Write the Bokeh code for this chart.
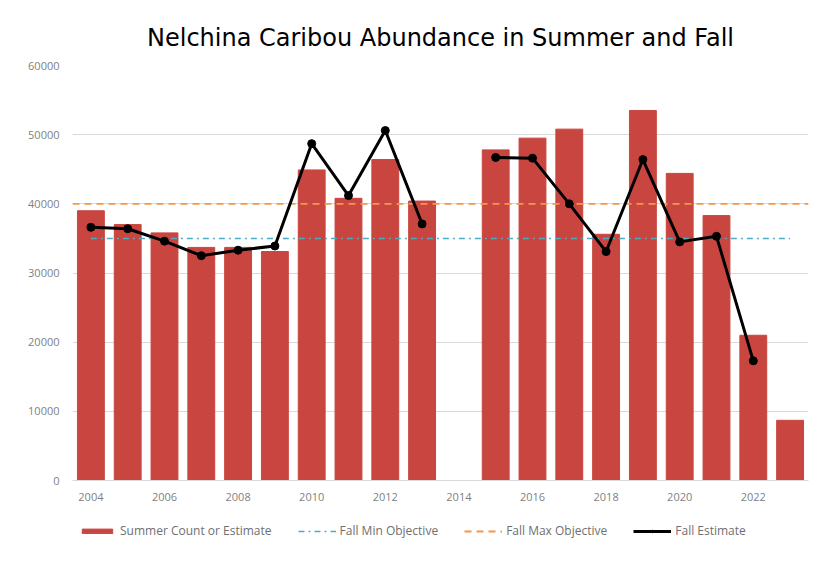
import numpy as np
from bokeh.plotting import figure
from bokeh.layouts import column
from bokeh.models import ColumnDataSource, FixedTicker, Legend, LegendItem, Range1d, NumeralTickFormatter
from bokeh.embed import file_html
from bokeh.resources import INLINE

# ---- data ----
years = list(range(2004, 2024))
summer_count = [39000, 37000, 35800, 33700, 33700, 33100, 44900, 40800, 46400, 40400,
                None, 47800, 49500, 50800, 35600, 53500, 44400, 38300, 21000, 8700]
fall_estimate = [36600, 36400, 34600, 32500, 33300, 33900, 48700, 41200, 50600, 37100,
                 None, 46700, 46600, 40000, 33100, 46400, 34500, 35300, 17300, None]
fall_min_objective = 35000
fall_max_objective = 40000
x_tick_years = list(range(2004, 2023, 2))
y_ticks = [0, 10000, 20000, 30000, 40000, 50000, 60000]

title_text = "Nelchina Caribou Abundance in Summer and Fall"
legend_labels = ["Summer Count or Estimate", "Fall Min Objective",
                 "Fall Max Objective", "Fall Estimate"]

bar_color = "#c8463f"
teal = "#4bacc6"
orange = "#f79646"
tick_font = "Open Sans"
label_color = "#7f7f7f"

# ---- sources ----
bar_years = [y for y, v in zip(years, summer_count) if v is not None]
bar_vals = [v for v in summer_count if v is not None]
bar_src = ColumnDataSource(dict(x=bar_years, top=bar_vals))

fall_vals = [np.nan if v is None else v for v in fall_estimate]
fall_src = ColumnDataSource(dict(x=years, y=fall_vals))
pt_years = [y for y, v in zip(years, fall_estimate) if v is not None]
pt_vals = [v for v in fall_estimate if v is not None]
pt_src = ColumnDataSource(dict(x=pt_years, y=pt_vals))

min_src = ColumnDataSource(dict(x=years, y=[fall_min_objective] * len(years)))
max_src = ColumnDataSource(dict(x=[years[0] - 0.5, years[-1] + 0.5],
                                y=[fall_max_objective] * 2))

p = figure(width=817, height=510, output_backend="svg", toolbar_location=None,
           x_range=Range1d(years[0] - 0.5, years[-1] + 0.5),
           y_range=Range1d(0, 60000),
           min_border_left=72, min_border_right=9, min_border_top=65, min_border_bottom=30)

p.title.text = title_text
p.title.align = "center"
p.title.text_font = "DejaVu Sans"
p.title.text_font_style = "normal"
p.title.text_font_size = "24px"
p.title.text_color = "#000000"
p.title.standoff = 27

p.outline_line_color = None
p.background_fill_color = "white"
p.border_fill_color = "white"


def draw_series(fig):
    rb = fig.vbar(x="x", top="top", width=0.73, source=bar_src, color=bar_color)
    rmin = fig.line(x="x", y="y", source=min_src, line_color=teal, line_width=1.5,
                    line_dash="dashdot")
    rmax = fig.line(x="x", y="y", source=max_src, line_color=orange, line_width=1.8,
                    line_dash="7 5")
    rf = fig.line(x="x", y="y", source=fall_src, line_color="black", line_width=3)
    rp = fig.scatter(x="x", y="y", source=pt_src, size=8, color="black")
    return rb, rmin, rmax, rf, rp


draw_series(p)

# axes
p.xaxis.ticker = FixedTicker(ticks=x_tick_years)
p.yaxis.ticker = FixedTicker(ticks=y_ticks)
p.yaxis.formatter = NumeralTickFormatter(format="0")
for ax in (p.xaxis, p.yaxis):
    ax.major_tick_line_color = None
    ax.minor_tick_line_color = None
    ax.major_tick_out = 0
    ax.major_tick_in = 0
    ax.minor_tick_out = 0
    ax.major_label_text_font = tick_font
    ax.major_label_text_font_size = "11px"
    ax.major_label_text_color = label_color
p.yaxis.axis_line_color = None
p.xaxis.axis_line_color = "#d9d9d9"
p.yaxis.major_label_standoff = 13
p.xaxis.major_label_standoff = 12

p.xgrid.grid_line_color = None
p.ygrid.grid_line_color = "#d9d9d9"
p.ygrid.grid_line_width = 1

# ---- legend strip (separate figure so the legend is not clipped) ----
# Same series drawn with a y range above all values, so only the legend is seen.
lg = figure(width=817, height=68, output_backend="svg", toolbar_location=None,
            x_axis_location=None, y_axis_location=None,
            x_range=Range1d(years[0] - 0.5, years[-1] + 0.5),
            y_range=Range1d(61000, 121000),
            min_border=0)
lg.outline_line_color = None
lg.xgrid.grid_line_color = None
lg.ygrid.grid_line_color = None
lg.border_fill_color = "white"
lg.background_fill_color = "white"

r_bar, r_min, r_max, r_fall, r_pts = draw_series(lg)

legend = Legend(items=[
    LegendItem(label=legend_labels[0], renderers=[r_bar]),
    LegendItem(label=legend_labels[1], renderers=[r_min]),
    LegendItem(label=legend_labels[2], renderers=[r_max]),
    LegendItem(label=legend_labels[3], renderers=[r_fall, r_pts]),
], orientation="horizontal", location=(6, 39))
legend.label_text_font = tick_font
legend.label_text_font_size = "12px"
legend.label_text_color = "#6f6f6f"
legend.glyph_width = 38
legend.glyph_height = 6
legend.label_height = 16
legend.label_standoff = 4
legend.spacing = 26
legend.padding = 0
legend.margin = 0
legend.border_line_color = None
legend.background_fill_alpha = 0
lg.add_layout(legend)

layout = column(p, lg, spacing=0)
html = file_html(layout, INLINE)
open("out.html", "w").write(html)
